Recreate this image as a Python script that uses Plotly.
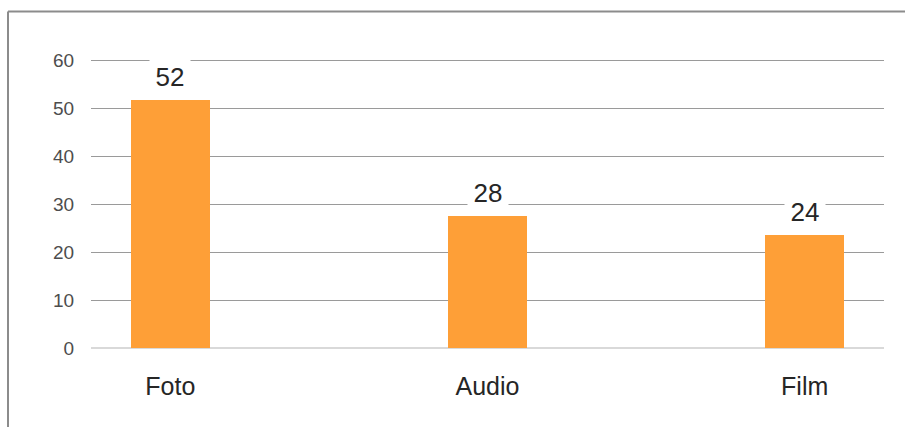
import plotly.graph_objects as go

categories = ["Foto", "Audio", "Film"]
values = [51.8, 27.5, 23.7]
value_labels = ["52", "28", "24"]
y_ticks = [0, 10, 20, 30, 40, 50, 60]

W, H = 905, 427
L, R, T, B = 91, 21, 56, 79
pw, ph = W - L - R, H - T - B

fig = go.Figure()
fig.add_trace(go.Bar(
    x=list(range(len(categories))), y=values, width=0.25,
    marker=dict(color="#FE9F37", line=dict(width=0)),
    hoverinfo="skip", showlegend=False,
))

for i, (v, lab) in enumerate(zip(values, value_labels)):
    fig.add_annotation(
        x=i, y=v, text=lab, showarrow=False, xref="x", yref="y",
        yanchor="bottom", yshift=5, bgcolor="white", width=36, borderpad=2,
        font=dict(family="Liberation Sans", size=26, color="#262626"),
    )

# outer frame (left and top edges)
fx = (8 - L) / pw
fy = 1 + (T - 11.5) / ph
fig.add_shape(type="line", xref="paper", yref="paper", x0=fx, x1=fx, y0=-1, y1=fy,
              line=dict(color="#8c8c8c", width=2))
fig.add_shape(type="line", xref="paper", yref="paper", x0=fx, x1=1.5, y0=fy, y1=fy,
              line=dict(color="#8c8c8c", width=2))

fig.update_layout(
    width=W, height=H, margin=dict(l=L, r=R, t=T, b=B),
    paper_bgcolor="white", plot_bgcolor="white",
    bargap=0,
    xaxis=dict(
        tickmode="array", tickvals=list(range(len(categories))), ticktext=categories,
        range=[-0.25, 2.25], showgrid=False, zeroline=False, showline=False,
        ticks="outside", ticklen=16, tickcolor="rgba(0,0,0,0)",
        tickfont=dict(family="Liberation Sans", size=25, color="#262626"),
    ),
    yaxis=dict(
        range=[0, 61], tickvals=y_ticks, showgrid=True, gridcolor="#9a9a9a", gridwidth=1,
        zeroline=True, zerolinecolor="#d9d9d9", zerolinewidth=2, showline=False,
        ticks="outside", ticklen=12, tickcolor="rgba(0,0,0,0)",
        tickfont=dict(family="Liberation Sans", size=19, color="#4d4d4d"),
    ),
)

fig.write_html("out.html")
